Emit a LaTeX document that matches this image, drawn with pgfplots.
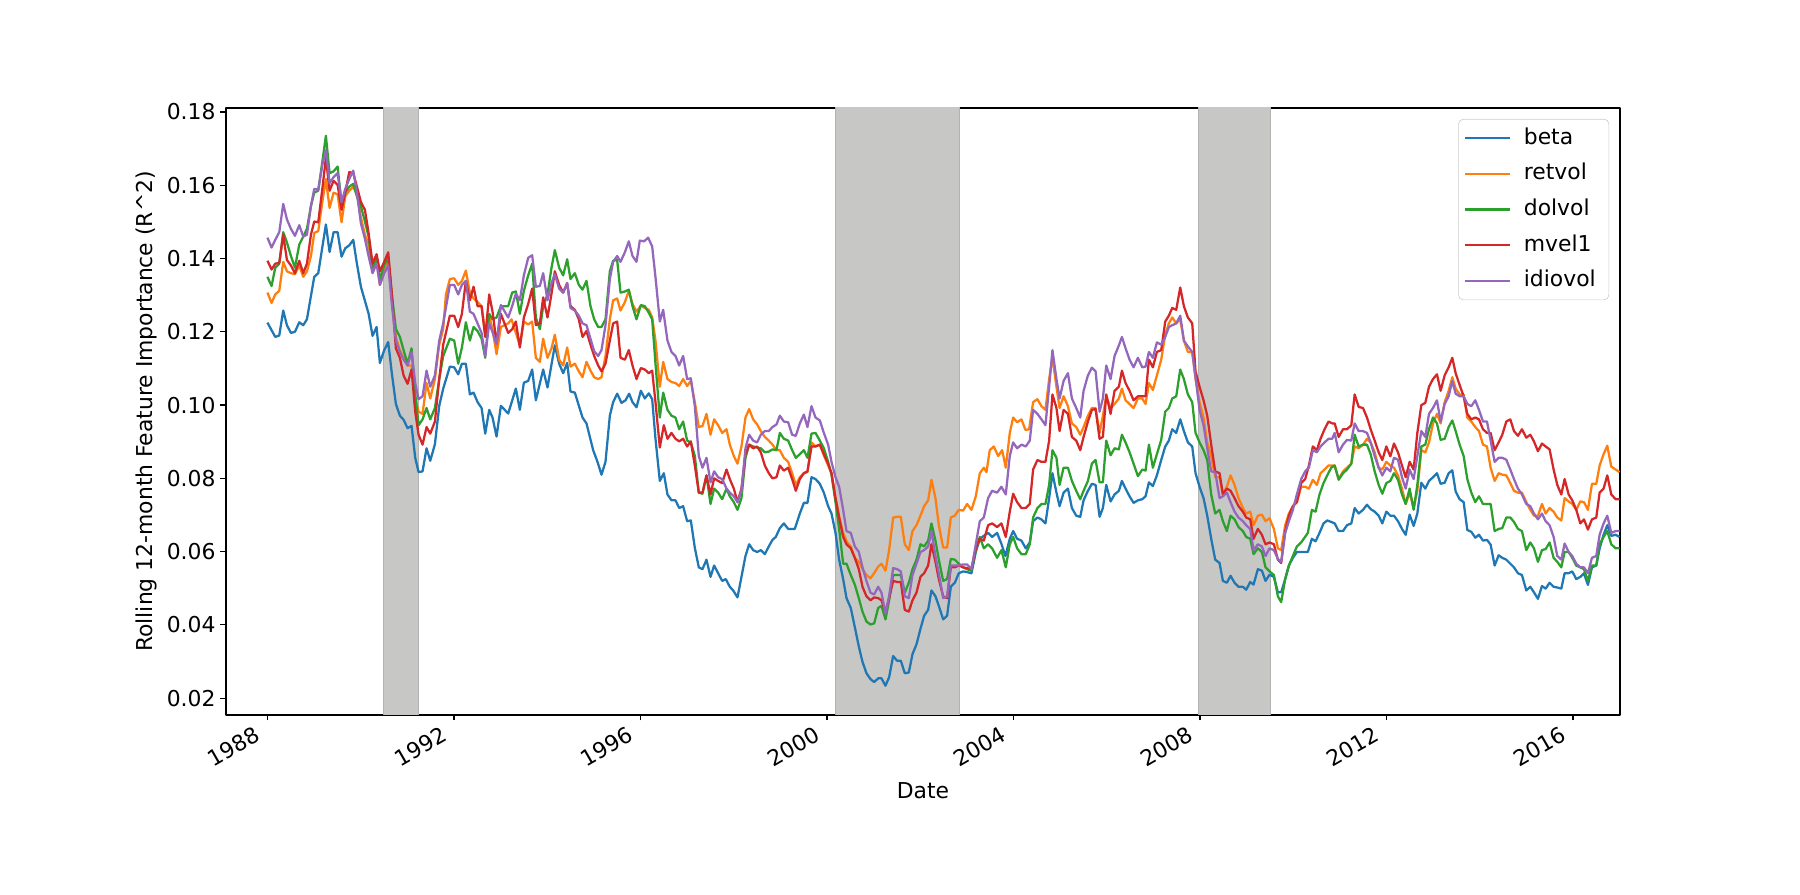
\documentclass[border=0pt]{standalone}
\usepackage{fontspec}
\setmainfont{DejaVu Sans}
\usepackage{pgfplots}
\pgfplotsset{compat=1.18}
\newcommand\fs{\fontsize{14pt}{16.8pt}\selectfont}
\definecolor{c0}{HTML}{1F77B4}
\definecolor{c1}{HTML}{FF7F0E}
\definecolor{c2}{HTML}{2CA02C}
\definecolor{c3}{HTML}{D62728}
\definecolor{c4}{HTML}{9467BD}
\definecolor{band}{RGB}{199,199,198}
\definecolor{bandedge}{RGB}{178,178,178}
\begin{document}
\begin{tikzpicture}
\useasboundingbox (-144.6pt,-114.6pt) rectangle (1007.4pt,457.6pt);
\begin{axis}[
  at={(0,0)}, anchor=south west,
  scale only axis, width=892.2pt, height=388.5pt,
  xmin=1987.11, xmax=2017.01, ymin=0.0154, ymax=0.1811,
  xtick={1988,1992,1996,2000,2004,2008,2012,2016},
  xticklabels={1988,1992,1996,2000,2004,2008,2012,2016},
  ytick={0.02,0.04,0.06,0.08,0.10,0.12,0.14,0.16,0.18},
  yticklabels={0.02,0.04,0.06,0.08,0.10,0.12,0.14,0.16,0.18},
  tick align=outside, tick pos=left,
  major tick length=3.5pt,
  every tick/.style={black, line width=0.8pt},
  axis line style={black, line width=0.8pt},
  tick label style={font=\fs},
  xticklabel style={xshift=-8pt, rotate=30, anchor=north east, inner sep=2pt},
  yticklabel style={inner sep=3pt},
  xlabel={Date},
  ylabel={Rolling 12-month Feature Importance (R\textasciicircum 2)},
  every axis x label/.style={at={(axis description cs:0.5,-0.125)}, anchor=center, font=\fs},
  every axis y label/.style={at={(axis description cs:-0.0567,0.5)}, rotate=90, anchor=center, font=\fs},
  legend cell align=left,
  legend image code/.code={\draw[#1, line width=1.45pt] (0pt,0pt) -- (28.5pt,0pt);},
  legend style={at={(axis description cs:0.9922,0.982)}, anchor=north east,
    draw=black!20, rounded corners=3pt, fill=white, fill opacity=0.8, text opacity=1,
    font=\fs, row sep=0pt, column sep=3.4pt, inner xsep=3.4pt, inner ysep=0.8pt,
    nodes={inner xsep=5pt, inner ysep=4.65pt, text height=10.5pt, text depth=3pt}},
  line join=round,
]
\addplot[fill=band, draw=bandedge, line width=0.6pt, forget plot] coordinates {(1990.49,0) (1990.49,0.2) (1991.25,0.2) (1991.25,0)} -- cycle;
\addplot[fill=band, draw=bandedge, line width=0.6pt, forget plot] coordinates {(2000.18,0) (2000.18,0.2) (2002.84,0.2) (2002.84,0)} -- cycle;
\addplot[fill=band, draw=bandedge, line width=0.6pt, forget plot] coordinates {(2007.96,0) (2007.96,0.2) (2009.51,0.2) (2009.51,0)} -- cycle;
% beta
\addplot[c0, line width=1.45pt] table {
x y
1988.000 0.1225
1988.168 0.1186
1988.254 0.1190
1988.339 0.1258
1988.418 0.1218
1988.504 0.1197
1988.590 0.1200
1988.683 0.1226
1988.768 0.1218
1988.847 0.1234
1989.004 0.1350
1989.090 0.1360
1989.254 0.1493
1989.333 0.1418
1989.419 0.1472
1989.505 0.1472
1989.590 0.1405
1989.669 0.1428
1989.755 0.1436
1989.841 0.1451
1989.919 0.1386
1990.005 0.1323
1990.169 0.1250
1990.255 0.1189
1990.341 0.1213
1990.412 0.1115
1990.505 0.1150
1990.591 0.1172
1990.663 0.1092
1990.755 0.1003
1990.841 0.0971
1990.920 0.0960
1991.006 0.0937
1991.091 0.0943
1991.170 0.0856
1991.242 0.0817
1991.327 0.0819
1991.413 0.0882
1991.492 0.0848
1991.592 0.0893
1991.685 0.0998
1991.770 0.1045
1991.913 0.1105
1992.006 0.1103
1992.092 0.1084
1992.171 0.1113
1992.256 0.1113
1992.342 0.1029
1992.421 0.1034
1992.507 0.1008
1992.593 0.0992
1992.671 0.0922
1992.757 0.0987
1992.828 0.0966
1992.914 0.0914
1993.007 0.0998
1993.164 0.0977
1993.328 0.1045
1993.414 0.0987
1993.500 0.1061
1993.593 0.1066
1993.678 0.1097
1993.757 0.1013
1993.914 0.1097
1994.007 0.1048
1994.164 0.1163
1994.257 0.1113
1994.343 0.1087
1994.429 0.1115
1994.500 0.1037
1994.593 0.1034
1994.758 0.0966
1994.843 0.0950
1994.986 0.0877
1995.079 0.0845
1995.165 0.0810
1995.251 0.0845
1995.344 0.0971
1995.415 0.1008
1995.501 0.1031
1995.594 0.1006
1995.680 0.1013
1995.758 0.1031
1995.830 0.1008
1995.916 0.0994
1996.009 0.1039
1996.094 0.1018
1996.180 0.1032
1996.252 0.1016
1996.323 0.0908
1996.416 0.0793
1996.502 0.0814
1996.580 0.0756
1996.666 0.0740
1996.752 0.0740
1996.831 0.0719
1996.916 0.0724
1997.002 0.0683
1997.081 0.0685
1997.167 0.0610
1997.252 0.0557
1997.331 0.0552
1997.417 0.0578
1997.503 0.0531
1997.581 0.0562
1997.667 0.0541
1997.753 0.0520
1997.831 0.0525
1997.917 0.0504
1997.989 0.0494
1998.082 0.0475
1998.167 0.0531
1998.253 0.0588
1998.332 0.0620
1998.418 0.0604
1998.503 0.0599
1998.582 0.0604
1998.668 0.0593
1998.753 0.0614
1998.832 0.0632
1998.903 0.0640
1998.990 0.0664
1999.076 0.0677
1999.169 0.0662
1999.311 0.0662
1999.419 0.0704
1999.505 0.0733
1999.583 0.0733
1999.669 0.0803
1999.755 0.0798
1999.848 0.0785
1999.934 0.0761
2000.026 0.0724
2000.098 0.0704
2000.184 0.0651
2000.262 0.0578
2000.348 0.0525
2000.420 0.0473
2000.512 0.0446
2000.598 0.0394
2000.684 0.0341
2000.763 0.0299
2000.848 0.0268
2000.934 0.0252
2001.013 0.0244
2001.099 0.0254
2001.170 0.0254
2001.256 0.0234
2001.334 0.0257
2001.420 0.0315
2001.506 0.0302
2001.585 0.0302
2001.670 0.0268
2001.756 0.0270
2001.835 0.0320
2001.921 0.0347
2002.006 0.0389
2002.085 0.0425
2002.171 0.0441
2002.242 0.0494
2002.328 0.0478
2002.400 0.0452
2002.493 0.0415
2002.578 0.0425
2002.657 0.0504
2002.743 0.0515
2002.828 0.0541
2002.921 0.0546
2003.007 0.0544
2003.100 0.0541
2003.193 0.0599
2003.279 0.0635
2003.365 0.0643
2003.457 0.0651
2003.543 0.0640
2003.650 0.0651
2003.743 0.0621
2003.829 0.0588
2003.922 0.0635
2003.994 0.0656
2004.079 0.0635
2004.172 0.0630
2004.265 0.0609
2004.351 0.0625
2004.422 0.0683
2004.515 0.0693
2004.601 0.0688
2004.687 0.0677
2004.766 0.0746
2004.837 0.0814
2004.923 0.0761
2004.990 0.0724
2005.076 0.0761
2005.169 0.0772
2005.254 0.0719
2005.347 0.0698
2005.433 0.0695
2005.505 0.0740
2005.598 0.0766
2005.683 0.0785
2005.762 0.0782
2005.848 0.0695
2005.919 0.0719
2005.991 0.0782
2006.084 0.0737
2006.169 0.0756
2006.262 0.0766
2006.327 0.0793
2006.405 0.0772
2006.491 0.0751
2006.577 0.0733
2006.670 0.0740
2006.763 0.0743
2006.834 0.0751
2006.906 0.0789
2006.991 0.0779
2007.077 0.0808
2007.170 0.0850
2007.256 0.0887
2007.334 0.0903
2007.406 0.0934
2007.492 0.0924
2007.578 0.0961
2007.656 0.0929
2007.742 0.0898
2007.835 0.0887
2007.906 0.0814
2007.992 0.0777
2008.078 0.0746
2008.157 0.0698
2008.242 0.0635
2008.328 0.0578
2008.421 0.0569
2008.493 0.0520
2008.578 0.0515
2008.657 0.0534
2008.743 0.0515
2008.828 0.0504
2008.921 0.0504
2008.993 0.0496
2009.079 0.0517
2009.150 0.0510
2009.243 0.0552
2009.329 0.0548
2009.407 0.0520
2009.493 0.0537
2009.586 0.0531
2009.672 0.0489
2009.743 0.0489
2009.829 0.0525
2009.908 0.0562
2009.994 0.0583
2010.079 0.0599
2010.172 0.0599
2010.315 0.0599
2010.401 0.0635
2010.480 0.0628
2010.565 0.0651
2010.651 0.0677
2010.730 0.0685
2010.816 0.0681
2010.890 0.0677
2010.976 0.0656
2011.069 0.0656
2011.154 0.0672
2011.247 0.0677
2011.319 0.0719
2011.405 0.0704
2011.498 0.0714
2011.583 0.0728
2011.662 0.0716
2011.748 0.0709
2011.834 0.0698
2011.912 0.0677
2011.998 0.0709
2012.084 0.0698
2012.162 0.0698
2012.248 0.0683
2012.334 0.0662
2012.413 0.0646
2012.498 0.0701
2012.584 0.0670
2012.663 0.0704
2012.749 0.0788
2012.834 0.0772
2012.913 0.0793
2012.999 0.0803
2013.084 0.0814
2013.163 0.0785
2013.249 0.0788
2013.335 0.0814
2013.413 0.0822
2013.485 0.0764
2013.570 0.0743
2013.656 0.0735
2013.735 0.0659
2013.821 0.0654
2013.906 0.0638
2013.985 0.0646
2014.071 0.0630
2014.157 0.0632
2014.235 0.0619
2014.321 0.0562
2014.407 0.0590
2014.485 0.0583
2014.571 0.0578
2014.657 0.0567
2014.736 0.0557
2014.821 0.0541
2014.907 0.0536
2015.000 0.0494
2015.086 0.0504
2015.164 0.0489
2015.250 0.0471
2015.336 0.0506
2015.415 0.0499
2015.500 0.0515
2015.586 0.0504
2015.665 0.0502
2015.751 0.0499
2015.822 0.0541
2015.908 0.0541
2015.986 0.0546
2016.072 0.0525
2016.158 0.0531
2016.237 0.0541
2016.322 0.0509
2016.408 0.0557
2016.501 0.0562
2016.573 0.0609
2016.658 0.0646
2016.737 0.0672
2016.823 0.0643
2016.916 0.0646
2017.000 0.0640
};
% retvol
\addplot[c1, line width=1.45pt] table {
x y
1988.000 0.1307
1988.089 0.1279
1988.168 0.1302
1988.254 0.1312
1988.339 0.1391
1988.418 0.1365
1988.504 0.1360
1988.590 0.1357
1988.683 0.1381
1988.768 0.1350
1988.847 0.1365
1988.933 0.1407
1989.004 0.1470
1989.090 0.1475
1989.183 0.1559
1989.254 0.1617
1989.333 0.1538
1989.419 0.1580
1989.505 0.1575
1989.590 0.1499
1989.669 0.1570
1989.755 0.1585
1989.841 0.1596
1989.919 0.1575
1990.005 0.1512
1990.091 0.1465
1990.169 0.1438
1990.255 0.1365
1990.341 0.1402
1990.412 0.1328
1990.505 0.1365
1990.591 0.1391
1990.663 0.1302
1990.755 0.1186
1990.841 0.1150
1990.920 0.1129
1991.006 0.1108
1991.091 0.1108
1991.170 0.1018
1991.242 0.0982
1991.327 0.0976
1991.413 0.1060
1991.492 0.1018
1991.592 0.1071
1991.685 0.1165
1991.770 0.1208
1991.828 0.1302
1991.913 0.1344
1992.006 0.1346
1992.092 0.1328
1992.171 0.1339
1992.256 0.1367
1992.342 0.1307
1992.421 0.1291
1992.507 0.1281
1992.593 0.1270
1992.671 0.1197
1992.757 0.1244
1992.828 0.1207
1992.914 0.1139
1993.007 0.1213
1993.164 0.1223
1993.235 0.1234
1993.328 0.1197
1993.414 0.1163
1993.500 0.1228
1993.593 0.1220
1993.678 0.1228
1993.757 0.1129
1993.843 0.1118
1993.914 0.1181
1994.007 0.1129
1994.093 0.1155
1994.164 0.1192
1994.257 0.1124
1994.343 0.1108
1994.429 0.1157
1994.500 0.1105
1994.593 0.1113
1994.679 0.1092
1994.758 0.1076
1994.843 0.1118
1994.929 0.1094
1995.008 0.1076
1995.094 0.1071
1995.165 0.1076
1995.251 0.1134
1995.344 0.1234
1995.415 0.1286
1995.501 0.1291
1995.573 0.1258
1995.666 0.1281
1995.751 0.1312
1995.830 0.1276
1995.916 0.1255
1996.009 0.1271
1996.094 0.1265
1996.180 0.1260
1996.252 0.1239
1996.323 0.1176
1996.416 0.1050
1996.488 0.1118
1996.580 0.1071
1996.666 0.1063
1996.752 0.1060
1996.831 0.1052
1996.916 0.1071
1997.002 0.1052
1997.081 0.1066
1997.167 0.1008
1997.252 0.0940
1997.331 0.0943
1997.417 0.0976
1997.503 0.0919
1997.581 0.0961
1997.667 0.0945
1997.753 0.0924
1997.846 0.0934
1997.917 0.0892
1998.003 0.0861
1998.082 0.0840
1998.167 0.0887
1998.253 0.0966
1998.332 0.0989
1998.418 0.0961
1998.503 0.0947
1998.582 0.0929
1998.668 0.0913
1998.753 0.0903
1998.832 0.0892
1998.918 0.0877
1998.990 0.0877
1999.076 0.0856
1999.169 0.0845
1999.254 0.0814
1999.333 0.0782
1999.419 0.0803
1999.505 0.0814
1999.583 0.0817
1999.669 0.0898
1999.755 0.0887
1999.848 0.0892
1999.934 0.0863
2000.026 0.0835
2000.098 0.0814
2000.184 0.0746
2000.276 0.0688
2000.348 0.0651
2000.434 0.0625
2000.512 0.0614
2000.598 0.0583
2000.684 0.0572
2000.763 0.0552
2000.848 0.0536
2000.934 0.0527
2001.013 0.0541
2001.099 0.0559
2001.170 0.0567
2001.256 0.0548
2001.334 0.0604
2001.420 0.0693
2001.506 0.0695
2001.585 0.0695
2001.670 0.0620
2001.756 0.0604
2001.835 0.0656
2001.921 0.0672
2002.006 0.0698
2002.085 0.0724
2002.171 0.0740
2002.242 0.0796
2002.328 0.0746
2002.400 0.0672
2002.493 0.0611
2002.578 0.0611
2002.657 0.0693
2002.743 0.0698
2002.828 0.0714
2002.921 0.0712
2003.007 0.0730
2003.100 0.0714
2003.193 0.0751
2003.279 0.0814
2003.365 0.0829
2003.422 0.0817
2003.493 0.0877
2003.579 0.0887
2003.672 0.0861
2003.758 0.0877
2003.836 0.0829
2003.922 0.0924
2003.994 0.0966
2004.079 0.0953
2004.172 0.0961
2004.258 0.0932
2004.337 0.0934
2004.422 0.1008
2004.515 0.1016
2004.601 0.0997
2004.687 0.0987
2004.766 0.1071
2004.837 0.1129
2004.923 0.1050
2004.990 0.0992
2005.076 0.1024
2005.169 0.0997
2005.254 0.0950
2005.347 0.0940
2005.433 0.0919
2005.505 0.0940
2005.598 0.0971
2005.683 0.0992
2005.762 0.0992
2005.848 0.0924
2005.919 0.0971
2005.991 0.1024
2006.084 0.0992
2006.169 0.1003
2006.262 0.1018
2006.327 0.1045
2006.405 0.1013
2006.491 0.1003
2006.577 0.0992
2006.670 0.1018
2006.763 0.1018
2006.834 0.1003
2006.906 0.1060
2006.991 0.1041
2007.077 0.1081
2007.170 0.1124
2007.256 0.1192
2007.334 0.1223
2007.406 0.1239
2007.492 0.1223
2007.578 0.1234
2007.656 0.1176
2007.742 0.1145
2007.835 0.1145
2007.906 0.1071
2007.992 0.1008
2008.078 0.0966
2008.157 0.0898
2008.242 0.0861
2008.328 0.0803
2008.421 0.0803
2008.493 0.0756
2008.578 0.0777
2008.657 0.0808
2008.743 0.0782
2008.828 0.0746
2008.921 0.0719
2008.993 0.0704
2009.079 0.0709
2009.150 0.0672
2009.243 0.0698
2009.329 0.0701
2009.407 0.0683
2009.493 0.0691
2009.586 0.0662
2009.672 0.0609
2009.743 0.0604
2009.829 0.0672
2009.908 0.0704
2009.994 0.0724
2010.079 0.0735
2010.172 0.0777
2010.258 0.0777
2010.337 0.0772
2010.422 0.0796
2010.508 0.0782
2010.587 0.0814
2010.673 0.0824
2010.758 0.0835
2010.837 0.0835
2010.890 0.0835
2010.976 0.0798
2011.069 0.0819
2011.154 0.0829
2011.247 0.0840
2011.319 0.0887
2011.405 0.0882
2011.498 0.0892
2011.583 0.0908
2011.662 0.0898
2011.748 0.0871
2011.834 0.0829
2011.912 0.0824
2011.998 0.0845
2012.084 0.0835
2012.162 0.0829
2012.248 0.0808
2012.334 0.0772
2012.413 0.0730
2012.498 0.0761
2012.584 0.0719
2012.663 0.0766
2012.749 0.0877
2012.834 0.0871
2012.913 0.0898
2012.999 0.0950
2013.084 0.0976
2013.163 0.0950
2013.249 0.1008
2013.335 0.1039
2013.413 0.1076
2013.485 0.1045
2013.570 0.1029
2013.656 0.1029
2013.735 0.0966
2013.821 0.0955
2013.906 0.0940
2013.985 0.0929
2014.071 0.0892
2014.157 0.0887
2014.235 0.0829
2014.321 0.0793
2014.407 0.0814
2014.485 0.0810
2014.571 0.0808
2014.657 0.0787
2014.736 0.0766
2014.821 0.0761
2014.907 0.0761
2015.000 0.0735
2015.086 0.0714
2015.164 0.0698
2015.250 0.0698
2015.336 0.0730
2015.415 0.0704
2015.500 0.0719
2015.586 0.0709
2015.665 0.0693
2015.751 0.0685
2015.822 0.0746
2015.908 0.0737
2015.986 0.0730
2016.072 0.0714
2016.158 0.0737
2016.237 0.0735
2016.322 0.0714
2016.408 0.0785
2016.501 0.0785
2016.573 0.0835
2016.658 0.0866
2016.737 0.0889
2016.823 0.0832
2016.916 0.0824
2017.000 0.0817
};
% dolvol
\addplot[c2, line width=1.45pt] table {
x y
1988.000 0.1350
1988.089 0.1325
1988.168 0.1375
1988.254 0.1386
1988.339 0.1472
1988.418 0.1444
1988.504 0.1407
1988.590 0.1375
1988.683 0.1438
1988.768 0.1460
1988.847 0.1481
1988.933 0.1543
1989.004 0.1580
1989.090 0.1585
1989.183 0.1669
1989.254 0.1735
1989.333 0.1633
1989.419 0.1638
1989.505 0.1651
1989.590 0.1549
1989.669 0.1580
1989.755 0.1596
1989.841 0.1604
1989.919 0.1570
1990.005 0.1543
1990.091 0.1501
1990.169 0.1460
1990.255 0.1375
1990.341 0.1402
1990.412 0.1344
1990.505 0.1381
1990.591 0.1402
1990.663 0.1307
1990.755 0.1208
1990.841 0.1186
1990.920 0.1150
1991.006 0.1113
1991.091 0.1155
1991.170 0.1029
1991.242 0.0945
1991.327 0.0961
1991.413 0.0992
1991.492 0.0961
1991.592 0.0992
1991.685 0.1071
1991.770 0.1134
1991.913 0.1181
1992.006 0.1176
1992.092 0.1113
1992.171 0.1157
1992.256 0.1226
1992.342 0.1176
1992.421 0.1213
1992.507 0.1202
1992.593 0.1181
1992.671 0.1129
1992.757 0.1249
1992.828 0.1234
1992.914 0.1239
1993.007 0.1270
1993.164 0.1270
1993.249 0.1307
1993.328 0.1310
1993.414 0.1249
1993.500 0.1312
1993.593 0.1354
1993.678 0.1386
1993.757 0.1239
1993.843 0.1207
1993.914 0.1270
1994.007 0.1302
1994.093 0.1375
1994.164 0.1423
1994.257 0.1375
1994.343 0.1354
1994.429 0.1398
1994.500 0.1344
1994.593 0.1360
1994.679 0.1328
1994.758 0.1315
1994.843 0.1339
1994.929 0.1270
1995.008 0.1234
1995.094 0.1213
1995.165 0.1213
1995.251 0.1234
1995.344 0.1365
1995.415 0.1394
1995.501 0.1396
1995.573 0.1307
1995.666 0.1310
1995.751 0.1315
1995.830 0.1270
1995.916 0.1234
1996.009 0.1273
1996.094 0.1270
1996.180 0.1252
1996.252 0.1234
1996.323 0.1113
1996.416 0.0966
1996.488 0.1034
1996.580 0.0987
1996.666 0.0971
1996.752 0.0966
1996.831 0.0934
1996.916 0.0955
1997.002 0.0903
1997.081 0.0898
1997.167 0.0861
1997.252 0.0761
1997.331 0.0758
1997.417 0.0808
1997.503 0.0730
1997.581 0.0772
1997.667 0.0761
1997.753 0.0743
1997.846 0.0772
1997.917 0.0751
1998.003 0.0735
1998.082 0.0714
1998.167 0.0746
1998.253 0.0856
1998.332 0.0892
1998.418 0.0887
1998.503 0.0884
1998.582 0.0882
1998.668 0.0871
1998.753 0.0873
1998.832 0.0879
1998.918 0.0877
1998.990 0.0924
1999.076 0.0908
1999.169 0.0903
1999.254 0.0877
1999.333 0.0856
1999.419 0.0866
1999.505 0.0877
1999.583 0.0856
1999.669 0.0922
1999.755 0.0924
1999.848 0.0903
1999.934 0.0882
2000.026 0.0845
2000.098 0.0810
2000.184 0.0735
2000.262 0.0662
2000.348 0.0567
2000.420 0.0567
2000.512 0.0536
2000.598 0.0510
2000.684 0.0473
2000.763 0.0436
2000.848 0.0409
2000.934 0.0401
2001.013 0.0404
2001.099 0.0446
2001.170 0.0452
2001.256 0.0415
2001.334 0.0467
2001.420 0.0536
2001.506 0.0536
2001.585 0.0536
2001.670 0.0488
2001.756 0.0515
2001.835 0.0552
2001.921 0.0578
2002.006 0.0620
2002.085 0.0614
2002.171 0.0630
2002.242 0.0677
2002.328 0.0630
2002.400 0.0578
2002.493 0.0520
2002.578 0.0525
2002.657 0.0580
2002.743 0.0578
2002.828 0.0567
2002.921 0.0557
2003.007 0.0552
2003.100 0.0548
2003.193 0.0604
2003.279 0.0640
2003.365 0.0609
2003.457 0.0620
2003.543 0.0609
2003.650 0.0583
2003.743 0.0604
2003.836 0.0557
2003.922 0.0620
2003.994 0.0640
2004.079 0.0609
2004.172 0.0593
2004.265 0.0593
2004.351 0.0620
2004.422 0.0693
2004.515 0.0719
2004.601 0.0730
2004.687 0.0730
2004.766 0.0782
2004.837 0.0877
2004.923 0.0856
2004.990 0.0782
2005.076 0.0829
2005.169 0.0829
2005.254 0.0793
2005.347 0.0766
2005.433 0.0743
2005.505 0.0766
2005.598 0.0793
2005.683 0.0840
2005.762 0.0850
2005.848 0.0789
2005.919 0.0789
2005.991 0.0903
2006.084 0.0863
2006.169 0.0882
2006.262 0.0879
2006.327 0.0919
2006.405 0.0898
2006.491 0.0871
2006.577 0.0840
2006.670 0.0806
2006.763 0.0824
2006.834 0.0821
2006.906 0.0892
2006.991 0.0829
2007.077 0.0866
2007.170 0.0905
2007.256 0.0982
2007.334 0.0992
2007.406 0.1018
2007.492 0.1024
2007.578 0.1097
2007.656 0.1071
2007.742 0.1029
2007.835 0.1008
2007.906 0.0924
2007.992 0.0898
2008.078 0.0877
2008.157 0.0850
2008.242 0.0756
2008.328 0.0704
2008.421 0.0714
2008.493 0.0683
2008.578 0.0656
2008.657 0.0698
2008.743 0.0688
2008.828 0.0667
2008.921 0.0656
2008.993 0.0640
2009.079 0.0635
2009.150 0.0593
2009.243 0.0609
2009.329 0.0599
2009.407 0.0557
2009.493 0.0546
2009.586 0.0536
2009.672 0.0478
2009.743 0.0462
2009.829 0.0525
2009.908 0.0562
2009.994 0.0588
2010.079 0.0614
2010.172 0.0625
2010.315 0.0651
2010.401 0.0714
2010.480 0.0709
2010.565 0.0756
2010.651 0.0787
2010.730 0.0808
2010.816 0.0829
2010.890 0.0835
2010.976 0.0796
2011.069 0.0814
2011.154 0.0824
2011.247 0.0840
2011.319 0.0919
2011.405 0.0887
2011.498 0.0892
2011.583 0.0892
2011.662 0.0866
2011.748 0.0819
2011.834 0.0782
2011.912 0.0758
2011.998 0.0787
2012.084 0.0793
2012.162 0.0814
2012.248 0.0796
2012.334 0.0756
2012.413 0.0730
2012.498 0.0772
2012.584 0.0714
2012.663 0.0782
2012.749 0.0887
2012.834 0.0892
2012.913 0.0934
2012.999 0.0966
2013.084 0.0950
2013.163 0.0905
2013.249 0.0908
2013.335 0.0940
2013.413 0.0958
2013.485 0.0929
2013.570 0.0892
2013.656 0.0861
2013.735 0.0798
2013.821 0.0761
2013.906 0.0735
2013.985 0.0751
2014.071 0.0730
2014.157 0.0730
2014.235 0.0730
2014.321 0.0656
2014.407 0.0662
2014.485 0.0664
2014.571 0.0693
2014.657 0.0693
2014.736 0.0681
2014.821 0.0662
2014.907 0.0656
2015.000 0.0604
2015.086 0.0625
2015.164 0.0609
2015.250 0.0572
2015.336 0.0604
2015.415 0.0607
2015.500 0.0625
2015.586 0.0583
2015.665 0.0572
2015.751 0.0557
2015.822 0.0599
2015.908 0.0599
2015.986 0.0583
2016.072 0.0562
2016.158 0.0557
2016.237 0.0552
2016.322 0.0520
2016.408 0.0562
2016.501 0.0562
2016.573 0.0620
2016.658 0.0640
2016.737 0.0656
2016.823 0.0620
2016.916 0.0609
2017.000 0.0609
};
% mvel1
\addplot[c3, line width=1.45pt] table {
x y
1988.000 0.1394
1988.089 0.1370
1988.168 0.1386
1988.254 0.1388
1988.339 0.1465
1988.418 0.1396
1988.504 0.1381
1988.590 0.1360
1988.683 0.1394
1988.768 0.1360
1988.847 0.1386
1988.933 0.1465
1989.004 0.1501
1989.090 0.1499
1989.183 0.1596
1989.254 0.1675
1989.333 0.1585
1989.419 0.1612
1989.505 0.1601
1989.590 0.1533
1989.669 0.1580
1989.755 0.1636
1989.841 0.1633
1989.919 0.1596
1990.005 0.1554
1990.091 0.1533
1990.169 0.1470
1990.255 0.1386
1990.341 0.1412
1990.412 0.1365
1990.505 0.1391
1990.591 0.1417
1990.663 0.1312
1990.755 0.1155
1990.841 0.1129
1990.920 0.1081
1991.006 0.1058
1991.091 0.1097
1991.170 0.0982
1991.242 0.0919
1991.327 0.0892
1991.413 0.0940
1991.492 0.0922
1991.592 0.0955
1991.685 0.1071
1991.770 0.1165
1991.913 0.1244
1992.006 0.1244
1992.092 0.1213
1992.171 0.1249
1992.256 0.1339
1992.342 0.1286
1992.421 0.1323
1992.507 0.1270
1992.593 0.1270
1992.671 0.1186
1992.757 0.1302
1992.828 0.1255
1992.914 0.1171
1993.007 0.1249
1993.164 0.1197
1993.249 0.1207
1993.328 0.1228
1993.414 0.1157
1993.500 0.1239
1993.593 0.1276
1993.678 0.1318
1993.757 0.1218
1993.843 0.1223
1993.914 0.1294
1994.007 0.1239
1994.093 0.1304
1994.164 0.1365
1994.257 0.1328
1994.343 0.1307
1994.429 0.1333
1994.500 0.1270
1994.593 0.1260
1994.679 0.1234
1994.758 0.1186
1994.843 0.1202
1994.929 0.1165
1995.008 0.1134
1995.094 0.1108
1995.165 0.1092
1995.251 0.1113
1995.344 0.1176
1995.415 0.1223
1995.501 0.1228
1995.573 0.1129
1995.666 0.1124
1995.751 0.1150
1995.830 0.1108
1995.916 0.1071
1996.009 0.1101
1996.094 0.1097
1996.180 0.1087
1996.252 0.1094
1996.323 0.1008
1996.416 0.0884
1996.502 0.0945
1996.580 0.0908
1996.666 0.0924
1996.752 0.0908
1996.831 0.0901
1996.916 0.0908
1997.002 0.0887
1997.081 0.0901
1997.167 0.0835
1997.252 0.0761
1997.331 0.0761
1997.417 0.0808
1997.503 0.0756
1997.581 0.0800
1997.667 0.0793
1997.753 0.0787
1997.846 0.0824
1997.917 0.0798
1998.003 0.0772
1998.082 0.0735
1998.167 0.0772
1998.253 0.0866
1998.332 0.0892
1998.418 0.0882
1998.503 0.0887
1998.582 0.0871
1998.668 0.0835
1998.753 0.0814
1998.832 0.0800
1998.918 0.0803
1998.990 0.0835
1999.076 0.0821
1999.169 0.0829
1999.254 0.0798
1999.333 0.0766
1999.419 0.0798
1999.505 0.0814
1999.583 0.0819
1999.669 0.0887
1999.755 0.0887
1999.848 0.0892
1999.934 0.0866
2000.026 0.0840
2000.098 0.0814
2000.184 0.0746
2000.262 0.0693
2000.348 0.0640
2000.420 0.0620
2000.512 0.0609
2000.598 0.0583
2000.684 0.0552
2000.763 0.0504
2000.848 0.0478
2000.934 0.0467
2001.013 0.0475
2001.099 0.0473
2001.170 0.0467
2001.256 0.0436
2001.334 0.0473
2001.420 0.0520
2001.506 0.0517
2001.585 0.0517
2001.670 0.0441
2001.756 0.0436
2001.835 0.0467
2001.921 0.0488
2002.006 0.0531
2002.085 0.0541
2002.171 0.0562
2002.242 0.0620
2002.328 0.0572
2002.400 0.0525
2002.493 0.0478
2002.578 0.0473
2002.657 0.0557
2002.743 0.0557
2002.828 0.0562
2002.921 0.0557
2003.007 0.0555
2003.100 0.0552
2003.193 0.0609
2003.279 0.0635
2003.365 0.0630
2003.457 0.0672
2003.543 0.0677
2003.650 0.0667
2003.743 0.0677
2003.836 0.0640
2003.922 0.0709
2003.994 0.0758
2004.079 0.0735
2004.172 0.0719
2004.265 0.0719
2004.351 0.0730
2004.422 0.0824
2004.515 0.0850
2004.601 0.0845
2004.687 0.0845
2004.766 0.0903
2004.837 0.1029
2004.923 0.0992
2004.990 0.0929
2005.076 0.0987
2005.169 0.0976
2005.254 0.0913
2005.347 0.0903
2005.433 0.0877
2005.505 0.0913
2005.598 0.0955
2005.683 0.0987
2005.762 0.0989
2005.848 0.0908
2005.919 0.0913
2005.991 0.1029
2006.084 0.0976
2006.169 0.1039
2006.262 0.1050
2006.327 0.1094
2006.405 0.1060
2006.491 0.1039
2006.577 0.1013
2006.670 0.1024
2006.763 0.1024
2006.834 0.1024
2006.906 0.1124
2006.991 0.1103
2007.077 0.1145
2007.170 0.1150
2007.256 0.1228
2007.334 0.1244
2007.406 0.1265
2007.492 0.1260
2007.578 0.1321
2007.656 0.1270
2007.742 0.1239
2007.835 0.1223
2007.906 0.1092
2007.992 0.1050
2008.078 0.1013
2008.157 0.0971
2008.242 0.0892
2008.328 0.0819
2008.421 0.0814
2008.493 0.0756
2008.578 0.0772
2008.657 0.0766
2008.743 0.0746
2008.828 0.0724
2008.921 0.0709
2008.993 0.0693
2009.079 0.0688
2009.150 0.0635
2009.243 0.0662
2009.329 0.0646
2009.407 0.0620
2009.493 0.0625
2009.586 0.0620
2009.672 0.0578
2009.743 0.0569
2009.829 0.0656
2009.908 0.0698
2009.994 0.0724
2010.079 0.0735
2010.172 0.0787
2010.258 0.0798
2010.337 0.0835
2010.422 0.0887
2010.508 0.0877
2010.587 0.0908
2010.673 0.0934
2010.758 0.0955
2010.837 0.0950
2010.890 0.0950
2010.976 0.0913
2011.069 0.0934
2011.154 0.0934
2011.247 0.0945
2011.319 0.1029
2011.405 0.0995
2011.498 0.0992
2011.583 0.0966
2011.662 0.0934
2011.748 0.0903
2011.834 0.0871
2011.912 0.0850
2011.998 0.0887
2012.084 0.0860
2012.162 0.0895
2012.248 0.0871
2012.334 0.0835
2012.413 0.0803
2012.498 0.0845
2012.584 0.0824
2012.663 0.0924
2012.749 0.1000
2012.834 0.1006
2012.913 0.1050
2012.999 0.1071
2013.084 0.1084
2013.163 0.1039
2013.249 0.1081
2013.335 0.1103
2013.413 0.1129
2013.485 0.1087
2013.570 0.1055
2013.656 0.1024
2013.735 0.0976
2013.821 0.0961
2013.906 0.0966
2013.985 0.0961
2014.071 0.0934
2014.157 0.0924
2014.235 0.0924
2014.321 0.0877
2014.407 0.0898
2014.485 0.0919
2014.571 0.0955
2014.657 0.0961
2014.736 0.0929
2014.821 0.0916
2014.907 0.0934
2015.000 0.0911
2015.086 0.0919
2015.164 0.0901
2015.250 0.0874
2015.336 0.0895
2015.415 0.0887
2015.500 0.0879
2015.586 0.0824
2015.665 0.0782
2015.751 0.0756
2015.822 0.0798
2015.908 0.0756
2015.986 0.0740
2016.072 0.0714
2016.158 0.0677
2016.237 0.0688
2016.322 0.0660
2016.408 0.0688
2016.501 0.0693
2016.573 0.0761
2016.658 0.0772
2016.737 0.0808
2016.823 0.0756
2016.916 0.0743
2017.000 0.0743
};
% idiovol
\addplot[c4, line width=1.45pt] table {
x y
1988.000 0.1457
1988.089 0.1430
1988.168 0.1451
1988.254 0.1472
1988.339 0.1549
1988.418 0.1507
1988.504 0.1481
1988.590 0.1462
1988.683 0.1491
1988.768 0.1460
1988.847 0.1465
1988.933 0.1543
1989.004 0.1590
1989.090 0.1588
1989.183 0.1659
1989.254 0.1696
1989.333 0.1606
1989.419 0.1622
1989.505 0.1633
1989.590 0.1554
1989.669 0.1590
1989.755 0.1617
1989.841 0.1640
1989.919 0.1580
1990.005 0.1496
1990.091 0.1454
1990.169 0.1407
1990.255 0.1360
1990.341 0.1386
1990.412 0.1328
1990.505 0.1360
1990.591 0.1381
1990.663 0.1281
1990.755 0.1176
1990.841 0.1145
1990.920 0.1124
1991.006 0.1108
1991.091 0.1145
1991.170 0.1060
1991.242 0.1016
1991.327 0.1024
1991.413 0.1094
1991.492 0.1050
1991.592 0.1081
1991.685 0.1176
1991.770 0.1223
1991.913 0.1328
1992.006 0.1328
1992.092 0.1302
1992.171 0.1328
1992.256 0.1339
1992.342 0.1255
1992.421 0.1249
1992.507 0.1223
1992.593 0.1197
1992.671 0.1134
1992.757 0.1223
1992.828 0.1199
1992.914 0.1165
1993.007 0.1273
1993.164 0.1239
1993.249 0.1270
1993.328 0.1304
1993.414 0.1286
1993.500 0.1354
1993.593 0.1402
1993.678 0.1409
1993.757 0.1323
1993.843 0.1325
1993.914 0.1360
1994.007 0.1286
1994.093 0.1333
1994.164 0.1357
1994.257 0.1318
1994.343 0.1307
1994.429 0.1333
1994.500 0.1265
1994.593 0.1258
1994.679 0.1244
1994.758 0.1223
1994.843 0.1218
1994.929 0.1181
1995.008 0.1147
1995.094 0.1134
1995.165 0.1150
1995.251 0.1218
1995.344 0.1344
1995.415 0.1391
1995.501 0.1407
1995.573 0.1391
1995.666 0.1417
1995.751 0.1447
1995.830 0.1407
1995.916 0.1391
1995.987 0.1449
1996.080 0.1447
1996.166 0.1457
1996.252 0.1433
1996.323 0.1349
1996.416 0.1228
1996.488 0.1260
1996.580 0.1176
1996.666 0.1145
1996.752 0.1134
1996.831 0.1108
1996.916 0.1134
1997.002 0.1071
1997.081 0.1073
1997.167 0.0997
1997.252 0.0861
1997.331 0.0829
1997.417 0.0856
1997.503 0.0789
1997.581 0.0819
1997.667 0.0803
1997.753 0.0798
1997.846 0.0772
1997.917 0.0761
1998.003 0.0751
1998.082 0.0735
1998.167 0.0766
1998.253 0.0882
1998.332 0.0919
1998.418 0.0903
1998.503 0.0898
1998.582 0.0919
1998.668 0.0929
1998.753 0.0929
1998.832 0.0940
1998.918 0.0947
1998.990 0.0971
1999.076 0.0955
1999.169 0.0953
1999.254 0.0919
1999.333 0.0916
1999.419 0.0950
1999.505 0.0974
1999.583 0.0940
1999.669 0.0997
1999.755 0.0966
1999.848 0.0958
1999.934 0.0924
2000.026 0.0892
2000.098 0.0845
2000.184 0.0803
2000.262 0.0777
2000.348 0.0714
2000.420 0.0656
2000.512 0.0651
2000.598 0.0614
2000.684 0.0599
2000.763 0.0557
2000.848 0.0520
2000.934 0.0488
2001.013 0.0483
2001.099 0.0504
2001.170 0.0488
2001.256 0.0431
2001.334 0.0478
2001.420 0.0555
2001.506 0.0552
2001.585 0.0546
2001.670 0.0478
2001.756 0.0473
2001.835 0.0536
2001.921 0.0567
2002.006 0.0599
2002.085 0.0604
2002.171 0.0614
2002.242 0.0656
2002.328 0.0588
2002.400 0.0541
2002.493 0.0473
2002.578 0.0478
2002.657 0.0562
2002.743 0.0562
2002.828 0.0562
2002.921 0.0565
2003.007 0.0565
2003.100 0.0552
2003.193 0.0620
2003.279 0.0683
2003.365 0.0693
2003.457 0.0746
2003.543 0.0766
2003.650 0.0761
2003.743 0.0777
2003.836 0.0756
2003.922 0.0861
2003.994 0.0898
2004.079 0.0882
2004.172 0.0892
2004.265 0.0887
2004.351 0.0903
2004.422 0.0987
2004.515 0.0976
2004.601 0.0961
2004.687 0.0945
2004.766 0.1050
2004.837 0.1150
2004.923 0.1071
2004.990 0.1018
2005.076 0.1066
2005.169 0.1087
2005.254 0.1018
2005.347 0.0992
2005.433 0.0966
2005.505 0.1039
2005.598 0.1081
2005.683 0.1102
2005.762 0.1092
2005.848 0.0982
2005.919 0.1018
2005.991 0.1108
2006.084 0.1071
2006.169 0.1134
2006.262 0.1163
2006.327 0.1186
2006.405 0.1155
2006.491 0.1124
2006.577 0.1103
2006.670 0.1129
2006.763 0.1103
2006.834 0.1105
2006.906 0.1145
2006.991 0.1129
2007.077 0.1171
2007.170 0.1165
2007.256 0.1186
2007.334 0.1213
2007.406 0.1218
2007.492 0.1223
2007.578 0.1244
2007.656 0.1176
2007.742 0.1160
2007.835 0.1145
2007.906 0.1076
2007.992 0.0987
2008.078 0.0945
2008.157 0.0882
2008.242 0.0819
2008.328 0.0817
2008.421 0.0746
2008.493 0.0751
2008.578 0.0761
2008.657 0.0735
2008.743 0.0709
2008.828 0.0693
2008.921 0.0683
2008.993 0.0672
2009.079 0.0662
2009.150 0.0604
2009.243 0.0620
2009.329 0.0614
2009.407 0.0588
2009.493 0.0609
2009.586 0.0604
2009.672 0.0580
2009.743 0.0572
2009.829 0.0651
2009.908 0.0683
2009.994 0.0714
2010.079 0.0756
2010.172 0.0798
2010.258 0.0819
2010.337 0.0829
2010.422 0.0877
2010.508 0.0871
2010.587 0.0887
2010.673 0.0898
2010.758 0.0908
2010.837 0.0908
2010.890 0.0924
2010.976 0.0871
2011.069 0.0892
2011.154 0.0905
2011.247 0.0903
2011.319 0.0950
2011.405 0.0929
2011.498 0.0929
2011.583 0.0924
2011.662 0.0898
2011.748 0.0861
2011.834 0.0829
2011.912 0.0808
2011.998 0.0829
2012.084 0.0819
2012.162 0.0856
2012.248 0.0851
2012.334 0.0803
2012.413 0.0772
2012.498 0.0824
2012.584 0.0798
2012.663 0.0861
2012.749 0.0929
2012.834 0.0913
2012.913 0.0976
2012.999 0.0992
2013.084 0.1013
2013.163 0.0955
2013.249 0.1003
2013.335 0.1024
2013.413 0.1066
2013.485 0.1031
2013.570 0.1024
2013.656 0.1024
2013.735 0.1003
2013.821 0.0997
2013.906 0.1013
2013.985 0.0987
2014.071 0.0955
2014.157 0.0955
2014.235 0.0903
2014.321 0.0845
2014.407 0.0856
2014.485 0.0856
2014.571 0.0851
2014.657 0.0824
2014.736 0.0798
2014.821 0.0772
2014.907 0.0756
2015.000 0.0730
2015.086 0.0724
2015.164 0.0704
2015.250 0.0688
2015.336 0.0704
2015.415 0.0683
2015.500 0.0672
2015.586 0.0640
2015.665 0.0588
2015.751 0.0578
2015.822 0.0622
2015.908 0.0599
2015.986 0.0588
2016.072 0.0567
2016.158 0.0557
2016.237 0.0557
2016.322 0.0541
2016.408 0.0583
2016.501 0.0588
2016.573 0.0646
2016.658 0.0677
2016.737 0.0698
2016.823 0.0651
2016.916 0.0656
2017.000 0.0656
};
\legend{beta,retvol,dolvol,mvel1,idiovol}
\end{axis}
\end{tikzpicture}
\end{document}
